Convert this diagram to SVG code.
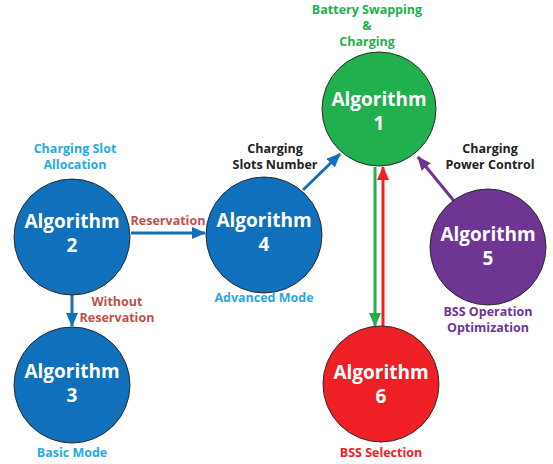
<svg xmlns="http://www.w3.org/2000/svg" width="553" height="464" viewBox="0 0 553 464">
<style>
.node{stroke:#2b2b2b;stroke-width:1}
.nt{font-family:"Open Sans","Noto Sans",sans-serif;font-weight:bold;font-size:19px;fill:#fff;text-anchor:middle}
.lb{font-family:"Open Sans","Noto Sans",sans-serif;font-weight:bold;font-size:12.5px;text-anchor:middle}
.c{fill:none;stroke-width:3}
</style>
<defs>
<marker id="ab" markerUnits="userSpaceOnUse" markerWidth="14" markerHeight="12" refX="13" refY="6" orient="auto"><path d="M0,0 L14,6 L0,12 Z" fill="#1170bb"/></marker>
<marker id="ag" markerUnits="userSpaceOnUse" markerWidth="14" markerHeight="12" refX="13" refY="6" orient="auto"><path d="M0,0 L14,6 L0,12 Z" fill="#22b04e"/></marker>
<marker id="ar" markerUnits="userSpaceOnUse" markerWidth="14" markerHeight="12" refX="13" refY="6" orient="auto"><path d="M0,0 L14,6 L0,12 Z" fill="#ee2026"/></marker>
<marker id="ap" markerUnits="userSpaceOnUse" markerWidth="14" markerHeight="12" refX="13" refY="6" orient="auto"><path d="M0,0 L14,6 L0,12 Z" fill="#6f3592"/></marker>
</defs>
<g id="connectors">
<line class="c" x1="131" y1="233" x2="205" y2="233" stroke="#1170bb" marker-end="url(#ab)"/>
<line class="c" x1="72" y1="295" x2="72" y2="326" stroke="#1170bb" marker-end="url(#ab)"/>
<line class="c" x1="303" y1="190" x2="340" y2="154" stroke="#1170bb" marker-end="url(#ab)"/>
<line class="c" x1="375" y1="167" x2="375" y2="326" stroke="#22b04e" marker-end="url(#ag)"/>
<line class="c" x1="383" y1="326" x2="383" y2="167" stroke="#ee2026" marker-end="url(#ar)"/>
<line class="c" x1="454" y1="201" x2="418" y2="157" stroke="#6f3592" marker-end="url(#ap)"/>
<text class="lb" x="168" y="225" fill="#c0504d">Reservation</text>
<text class="lb" fill="#c0504d"><tspan x="117" y="306">Without</tspan><tspan x="117" y="322">Reservation</tspan></text>
<text class="lb" fill="#222"><tspan x="275" y="153">Charging</tspan><tspan x="275" y="169">Slots Number</tspan></text>
<text class="lb" fill="#222"><tspan x="490" y="153">Charging</tspan><tspan x="490" y="169">Power Control</tspan></text>
</g>
<g id="node1">
<circle class="node" cx="379" cy="109" r="57" fill="#22b04e"/>
<text class="nt"><tspan x="379" y="106">Algorithm</tspan><tspan x="379" y="130">1</tspan></text>
<text class="lb" fill="#22b04e"><tspan x="367" y="14">Battery Swapping</tspan><tspan x="367" y="30">&amp;</tspan><tspan x="367" y="46">Charging</tspan></text>
</g>
<g id="node2">
<circle class="node" cx="72" cy="237" r="58" fill="#1170bb"/>
<text class="nt"><tspan x="72" y="228">Algorithm</tspan><tspan x="72" y="252">2</tspan></text>
<text class="lb" fill="#2aa8e0"><tspan x="75" y="153">Charging Slot</tspan><tspan x="75" y="169">Allocation</tspan></text>
</g>
<g id="node3">
<circle class="node" cx="72" cy="385" r="58" fill="#1170bb"/>
<text class="nt"><tspan x="72" y="378">Algorithm</tspan><tspan x="72" y="402">3</tspan></text>
<text class="lb" x="72" y="457" fill="#2aa8e0">Basic Mode</text>
</g>
<g id="node4">
<circle class="node" cx="264" cy="235" r="58" fill="#1170bb"/>
<text class="nt"><tspan x="264" y="227">Algorithm</tspan><tspan x="264" y="251">4</tspan></text>
<text class="lb" x="264" y="302" fill="#2aa8e0">Advanced Mode</text>
</g>
<g id="node5">
<circle class="node" cx="488" cy="247" r="58" fill="#6f3592"/>
<text class="nt"><tspan x="488" y="241">Algorithm</tspan><tspan x="488" y="265">5</tspan></text>
<text class="lb" fill="#6f3592"><tspan x="488" y="316">BSS Operation</tspan><tspan x="488" y="332">Optimization</tspan></text>
</g>
<g id="node6">
<circle class="node" cx="381" cy="384" r="58" fill="#ee2026"/>
<text class="nt"><tspan x="381" y="379">Algorithm</tspan><tspan x="381" y="403">6</tspan></text>
<text class="lb" x="381" y="457" fill="#ee2026">BSS Selection</text>
</g>
</svg>
